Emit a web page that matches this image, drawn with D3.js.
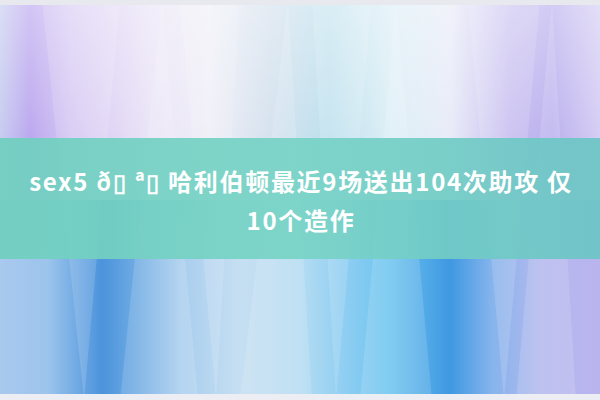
<!DOCTYPE html>
<html>
<head>
<meta charset="utf-8">
<script src="https://cdn.jsdelivr.net/npm/d3@7"></script>
<style>
  html, body { margin: 0; padding: 0; background: #fff; }
  svg { display: block; }
</style>
</head>
<body>
<div id="chart"></div>
<script>
// title text, two lines as in the picture
const titleLines = [
    "sex5 \u00f0\u25af \u00aa\u25af \u54c8\u5229\u4f2f\u987f\u6700\u8fd19\u573a\u9001\u51fa104\u6b21\u52a9\u653b \u4ec5",
    "10\u4e2a\u9020\u4f5c"
];

const width = 600, height = 400;
const bandTop = 138, bandBottom = 259;

// colour stops across the width, upper and lower background
const topStops = [
    [0, "#c8cdf0"], [0.05, "#bca8ef"], [0.12, "#d4c6f3"], [0.25, "#ebe4f7"],
    [0.35, "#eeeef7"], [0.45, "#d6e2ee"], [0.55, "#bde0ee"], [0.65, "#ddeff6"],
    [0.75, "#e9ecf8"], [0.85, "#c6bcf0"], [0.92, "#bbb1ee"], [1, "#d6cef4"]
];
const bottomStops = [
    [0, "#a9c9ee"], [0.08, "#9cc4ec"], [0.17, "#4b93dc"], [0.22, "#6aa8e2"],
    [0.3, "#a8cdee"], [0.4, "#c6dff2"], [0.5, "#b5dcf2"], [0.58, "#8ccdf2"],
    [0.65, "#6cc4ef"], [0.75, "#3f98e2"], [0.82, "#86b4ec"], [0.9, "#b3b8ee"],
    [1, "#bab4ee"]
];

const svg = d3.select("#chart").append("svg")
    .attr("width", width)
    .attr("height", height);

const defs = svg.append("defs");

function hGrad(id, stops) {
    const g = defs.append("linearGradient").attr("id", id)
        .attr("x1", 0).attr("x2", 1).attr("y1", 0).attr("y2", 0);
    g.selectAll("stop").data(stops).enter().append("stop")
        .attr("offset", d => d[0])
        .attr("stop-color", d => d[1]);
}
hGrad("topGrad", topStops);
hGrad("botGrad", bottomStops);
hGrad("bandGrad", [[0, "#70cfbf"], [0.5, "#78d3c6"], [1, "#6cc5c5"]]);

const fade = defs.append("linearGradient").attr("id", "fade")
    .attr("x1", 0).attr("x2", 0).attr("y1", 0).attr("y2", 1);
fade.append("stop").attr("offset", 0).attr("stop-color", "#fff").attr("stop-opacity", 0.35);
fade.append("stop").attr("offset", 1).attr("stop-color", "#fff").attr("stop-opacity", 0);

// upper and lower background
svg.append("rect").attr("x", 0).attr("y", 0).attr("width", width).attr("height", 200)
    .attr("fill", "url(#topGrad)");
svg.append("rect").attr("x", 0).attr("y", 200).attr("width", width).attr("height", 200)
    .attr("fill", "url(#botGrad)");
svg.append("rect").attr("x", 0).attr("y", 0).attr("width", width).attr("height", bandTop)
    .attr("fill", "url(#fade)");

// light beams (V shapes)
const x = d3.scaleLinear().domain([0, 1]).range([0, width]);
const y = d3.scaleLinear().domain([0, 1]).range([0, height]);
const beams = [
    [[0.07, 0], [0.2, 0], [0.14, 1]],
    [[0.2, 1], [0.33, 1], [0.27, 0]],
    [[0.3, 0], [0.4, 0], [0.36, 1]],
    [[0.4, 1], [0.52, 1], [0.48, 0]],
    [[0.52, 0], [0.62, 0], [0.56, 1]],
    [[0.6, 1], [0.72, 1], [0.66, 0]],
    [[0.78, 0], [0.9, 0], [0.84, 1]],
    [[0.86, 1], [0.96, 1], [0.92, 0]]
];
svg.selectAll(".beam").data(beams).enter().append("polygon")
    .attr("class", "beam")
    .attr("points", d => d.map(p => x(p[0]) + "," + y(p[1])).join(" "))
    .attr("fill", "#fff")
    .attr("fill-opacity", 0.14);

// top and bottom light strips
svg.append("rect").attr("x", 0).attr("y", 0).attr("width", width).attr("height", 5)
    .attr("fill", "#e8e9ef");
svg.append("rect").attr("x", 0).attr("y", 394).attr("width", width).attr("height", 6)
    .attr("fill", "#eceef3");

// teal band
svg.append("rect")
    .attr("x", 0).attr("y", bandTop)
    .attr("width", width).attr("height", bandBottom - bandTop)
    .attr("fill", "url(#bandGrad)")
    .attr("fill-opacity", 0.93);

// title
svg.selectAll(".title").data(titleLines).enter().append("text")
    .attr("class", "title")
    .attr("x", width / 2 + 1)
    .attr("y", (d, i) => 191 + i * 39)
    .attr("text-anchor", "middle")
    .attr("fill", "#fff")
    .style("font-family", "'Noto Sans CJK SC', 'Noto Sans', sans-serif")
    .style("font-weight", "bold")
    .style("font-size", "24px")
    .style("letter-spacing", "1.7px")
    .text(d => d);
</script>
</body>
</html>
